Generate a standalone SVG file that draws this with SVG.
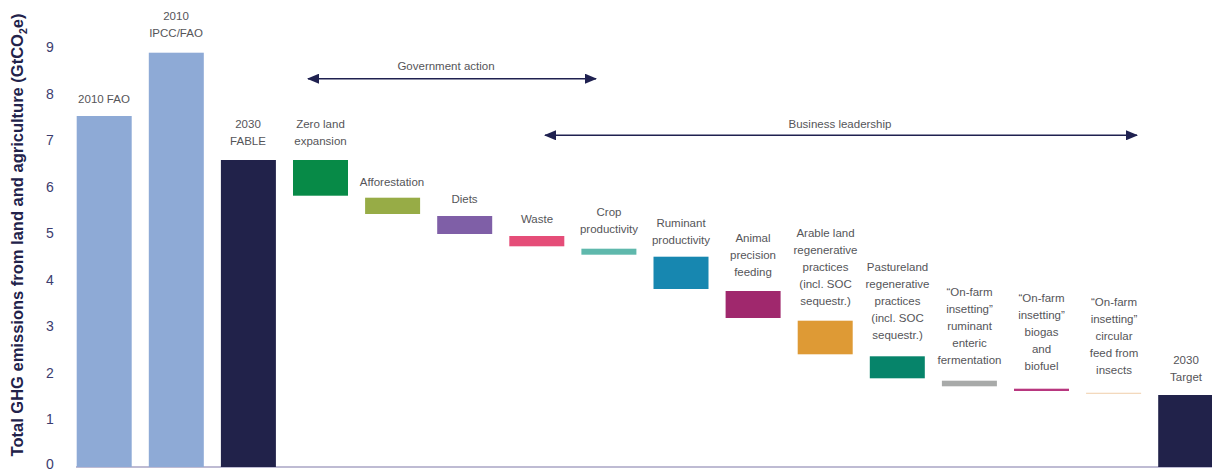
<svg xmlns="http://www.w3.org/2000/svg" width="1212" height="470" viewBox="0 0 1212 470">
<style>
.lbl{font-family:"Liberation Sans",Arial,sans-serif;font-size:11.5px;fill:#555559;text-anchor:middle}
.tick{font-family:"Liberation Sans",Arial,sans-serif;font-size:14px;fill:#3c3c6e;text-anchor:middle}
.ytitle{font-family:"Liberation Sans",Arial,sans-serif;font-size:16.5px;font-weight:bold;fill:#22224a}
.arr{stroke:#1f2150;stroke-width:1.5;fill:none}
</style>
<defs>
<marker id="ah" viewBox="0 0 12 10" refX="11" refY="5" markerWidth="12" markerHeight="10" markerUnits="userSpaceOnUse" orient="auto-start-reverse">
<path d="M0,0 L12,5 L0,10 z" fill="#1f2150"/>
</marker>
</defs>
<rect width="1212" height="470" fill="#ffffff"/>
<g id="axis">
<text class="ytitle" transform="translate(23,235) rotate(-90)" text-anchor="middle">Total GHG emissions from land and agriculture (GtCO<tspan font-size="10.5" dy="4">2</tspan><tspan dy="-4">e)</tspan></text>
<text class="tick" x="50" y="469">0</text>
<text class="tick" x="50" y="424">1</text>
<text class="tick" x="50" y="378">2</text>
<text class="tick" x="50" y="331">3</text>
<text class="tick" x="50" y="285">4</text>
<text class="tick" x="50" y="238">5</text>
<text class="tick" x="50" y="192">6</text>
<text class="tick" x="50" y="145">7</text>
<text class="tick" x="50" y="99">8</text>
<text class="tick" x="50" y="52">9</text>
<line x1="76" y1="467" x2="1212" y2="467" stroke="#a9a5c4" stroke-width="1.5"/>
</g>
<g id="connectors">
<line class="arr" x1="308" y1="78.7" x2="596" y2="78.7" marker-start="url(#ah)" marker-end="url(#ah)"/>
<text class="lbl" x="446" y="70">Government action</text>
<line class="arr" x1="545" y1="135.3" x2="1137" y2="135.3" marker-start="url(#ah)" marker-end="url(#ah)"/>
<text class="lbl" x="840" y="127.5">Business leadership</text>
</g>
<g id="fao2010">
<rect x="76.7" y="116" width="55" height="351" fill="#8eaad6"/>
<text class="lbl" x="104" y="103">2010 FAO</text>
</g>
<g id="ipcc2010">
<rect x="148.8" y="52.7" width="55" height="414.3" fill="#8eaad6"/>
<text class="lbl" x="176" y="20">2010</text>
<text class="lbl" x="176" y="37">IPCC/FAO</text>
</g>
<g id="fable2030">
<rect x="220.9" y="160" width="55" height="307" fill="#21224a"/>
<text class="lbl" x="248" y="128">2030</text>
<text class="lbl" x="248" y="145">FABLE</text>
</g>
<g id="zeroland">
<rect x="293" y="160" width="55" height="35.7" fill="#078a47"/>
<text class="lbl" x="320.5" y="127.5">Zero land</text>
<text class="lbl" x="320.5" y="144.5">expansion</text>
</g>
<g id="afforestation">
<rect x="365.1" y="197.7" width="55" height="16.3" fill="#97ac46"/>
<text class="lbl" x="392" y="186">Afforestation</text>
</g>
<g id="diets">
<rect x="437.2" y="216" width="55" height="18" fill="#7f5fa7"/>
<text class="lbl" x="464.5" y="202.5">Diets</text>
</g>
<g id="waste">
<rect x="509.3" y="236" width="55" height="10.3" fill="#e54d78"/>
<text class="lbl" x="537" y="222.5">Waste</text>
</g>
<g id="crop">
<rect x="581.4" y="248.7" width="55" height="6" fill="#5fb8ac"/>
<text class="lbl" x="609" y="216">Crop</text>
<text class="lbl" x="609" y="233">productivity</text>
</g>
<g id="ruminant">
<rect x="653.5" y="256.7" width="55" height="32.3" fill="#1787b0"/>
<text class="lbl" x="681" y="226.5">Ruminant</text>
<text class="lbl" x="681" y="243.5">productivity</text>
</g>
<g id="animal">
<rect x="725.6" y="291" width="55" height="27" fill="#a0286d"/>
<text class="lbl" x="753" y="242">Animal</text>
<text class="lbl" x="753" y="259">precision</text>
<text class="lbl" x="753" y="276">feeding</text>
</g>
<g id="arable">
<rect x="797.7" y="320.7" width="55" height="33.6" fill="#de9a35"/>
<text class="lbl" x="825.5" y="236.5">Arable land</text>
<text class="lbl" x="825.5" y="253.5">regenerative</text>
<text class="lbl" x="825.5" y="270.5">practices</text>
<text class="lbl" x="825.5" y="287.5">(incl. SOC</text>
<text class="lbl" x="825.5" y="304.5">sequestr.)</text>
</g>
<g id="pasture">
<rect x="869.8" y="356.3" width="55" height="22" fill="#06846a"/>
<text class="lbl" x="897.5" y="271">Pastureland</text>
<text class="lbl" x="897.5" y="288">regenerative</text>
<text class="lbl" x="897.5" y="305">practices</text>
<text class="lbl" x="897.5" y="322">(incl. SOC</text>
<text class="lbl" x="897.5" y="339">sequestr.)</text>
</g>
<g id="enteric">
<rect x="941.9" y="380.7" width="55" height="5.6" fill="#a8aaa9"/>
<text class="lbl" x="969.5" y="296">“On-farm</text>
<text class="lbl" x="969.5" y="313">insetting”</text>
<text class="lbl" x="969.5" y="330">ruminant</text>
<text class="lbl" x="969.5" y="347">enteric</text>
<text class="lbl" x="969.5" y="364">fermentation</text>
</g>
<g id="biogas">
<rect x="1014" y="388.7" width="55" height="2.3" fill="#b8377f"/>
<text class="lbl" x="1041.5" y="301.5">“On-farm</text>
<text class="lbl" x="1041.5" y="318.5">insetting”</text>
<text class="lbl" x="1041.5" y="335.5">biogas</text>
<text class="lbl" x="1041.5" y="352.5">and</text>
<text class="lbl" x="1041.5" y="369.5">biofuel</text>
</g>
<g id="insects">
<rect x="1086.1" y="392.7" width="55" height="1.3" fill="#f3d9bd"/>
<text class="lbl" x="1114" y="305.5">“On-farm</text>
<text class="lbl" x="1114" y="322.5">insetting”</text>
<text class="lbl" x="1114" y="339.5">circular</text>
<text class="lbl" x="1114" y="356.5">feed from</text>
<text class="lbl" x="1114" y="373.5">insects</text>
</g>
<g id="target2030">
<rect x="1158.2" y="395" width="55" height="72" fill="#21224a"/>
<text class="lbl" x="1186" y="364">2030</text>
<text class="lbl" x="1186" y="381">Target</text>
</g>
</svg>
